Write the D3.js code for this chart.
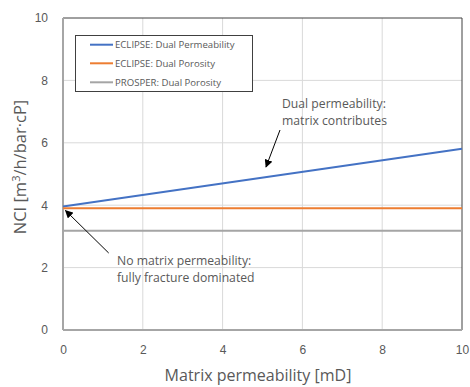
<!DOCTYPE html>
<html>
<head>
<meta charset="utf-8">
<script src="https://cdn.jsdelivr.net/npm/d3@7"></script>
<style>
  html, body { margin: 0; padding: 0; background: #fff; }
  svg { display: block; font-family: "Open Sans", "Liberation Sans", sans-serif; }
</style>
</head>
<body>
<svg id="chart" width="470" height="387"></svg>
<script>
// Matrix permeability [mD] sample points
const permeability = [0, 10];
// NCI values for each model
const eclipseDualPerm = [3.96, 5.81];
const eclipseDualPoro = [3.90, 3.90];
const prosperDualPoro = [3.18, 3.18];

const xTicks = [0, 2, 4, 6, 8, 10];
const yTicks = [0, 2, 4, 6, 8, 10];

const seriesNames = ["ECLIPSE: Dual Permeability", "ECLIPSE: Dual Porosity", "PROSPER: Dual Porosity"];
const seriesColors = ["#4472C4", "#ED7D31", "#A5A5A5"];
const seriesValues = [eclipseDualPerm, eclipseDualPoro, prosperDualPoro];

const svg = d3.select("#chart");
const margin = { left: 63, right: 8, top: 18, bottom: 57 };
const W = 470, H = 387;
const x = d3.scaleLinear().domain([0, 10]).range([margin.left, W - margin.right]);
const y = d3.scaleLinear().domain([0, 10]).range([H - margin.bottom, margin.top]);

const textColor = "#595959";

// gridlines
svg.append("g").selectAll("line.gx").data(xTicks.slice(1, -1)).join("line")
  .attr("x1", d => x(d)).attr("x2", d => x(d))
  .attr("y1", y(0)).attr("y2", y(10))
  .attr("stroke", "#D9D9D9").attr("stroke-width", 1);
svg.append("g").selectAll("line.gy").data(yTicks.slice(1, -1)).join("line")
  .attr("x1", x(0)).attr("x2", x(10))
  .attr("y1", d => y(d)).attr("y2", d => y(d))
  .attr("stroke", "#D9D9D9").attr("stroke-width", 1);

// frame: top and right border
svg.append("path")
  .attr("d", `M${x(0)},${y(10)}H${x(10)}V${y(0)}`)
  .attr("fill", "none").attr("stroke", "#404040").attr("stroke-width", 1);

// axes lines
svg.append("line").attr("x1", x(0)).attr("x2", x(10)).attr("y1", y(0)).attr("y2", y(0))
  .attr("stroke", "#A6A6A6").attr("stroke-width", 2);
svg.append("line").attr("x1", x(0)).attr("x2", x(0)).attr("y1", y(0)).attr("y2", y(10))
  .attr("stroke", "#A6A6A6").attr("stroke-width", 2);

// tick labels
const xAxis = svg.append("g").attr("transform", `translate(0,${y(0)})`)
  .call(d3.axisBottom(x).tickValues(xTicks).tickSize(0).tickPadding(15).tickFormat(d3.format("d")));
xAxis.select(".domain").remove();
xAxis.selectAll("text").attr("fill", textColor).attr("font-size", 12);

const yAxis = svg.append("g").attr("transform", `translate(${x(0)},0)`)
  .call(d3.axisLeft(y).tickValues(yTicks).tickSize(0).tickPadding(15).tickFormat(d3.format("d")));
yAxis.select(".domain").remove();
yAxis.selectAll("text").attr("fill", textColor).attr("font-size", 12);

// series lines
const line = d3.line().x((d, i) => x(permeability[i])).y(d => y(d));
svg.append("g").selectAll("path").data(seriesValues).join("path")
  .attr("d", d => line(d))
  .attr("fill", "none")
  .attr("stroke", (d, i) => seriesColors[i])
  .attr("stroke-width", 2);

// axis titles
svg.append("text").attr("x", 258).attr("y", 381)
  .attr("text-anchor", "middle").attr("fill", textColor).attr("font-size", 16)
  .text("Matrix permeability [mD]");

const yTitle = svg.append("text")
  .attr("transform", "translate(26,167) rotate(-90)")
  .attr("text-anchor", "middle").attr("fill", textColor).attr("font-size", 16.5);
yTitle.append("tspan").text("NCI [m");
yTitle.append("tspan").attr("font-size", 11).attr("dy", -6).text("3");
yTitle.append("tspan").attr("dy", 6).text("/h/bar·cP]");

// legend
const lg = svg.append("g");
lg.append("rect").attr("x", 75.5).attr("y", 35.5).attr("width", 177).attr("height", 56)
  .attr("fill", "#fff").attr("stroke", "#404040").attr("stroke-width", 1);
const rowsY = [44.7, 63.3, 82.3];
seriesNames.forEach((name, i) => {
  lg.append("line").attr("x1", 90).attr("x2", 113).attr("y1", rowsY[i]).attr("y2", rowsY[i])
    .attr("stroke", seriesColors[i]).attr("stroke-width", 2);
  lg.append("text").attr("x", 115).attr("y", rowsY[i]).attr("dy", "0.35em")
    .attr("font-size", 9.6).attr("fill", textColor).text(name);
});

// annotations
svg.append("defs").append("marker")
  .attr("id", "arrow").attr("viewBox", "0 0 10 10")
  .attr("refX", 9).attr("refY", 5)
  .attr("markerWidth", 8).attr("markerHeight", 8)
  .attr("markerUnits", "userSpaceOnUse")
  .attr("orient", "auto")
  .append("path").attr("d", "M0,0L10,5L0,10z").attr("fill", "#000");

function note(lines, tx, ty) {
  const t = svg.append("text").attr("x", tx).attr("y", ty)
    .attr("fill", textColor).attr("font-size", 12.2);
  lines.forEach((s, i) => t.append("tspan").attr("x", tx).attr("dy", i ? 17 : 0).text(s));
}
note(["Dual permeability:", "matrix contributes"], 282, 108);
svg.append("line").attr("x1", 280).attr("y1", 130).attr("x2", 266).attr("y2", 167)
  .attr("stroke", "#000").attr("stroke-width", 1).attr("marker-end", "url(#arrow)");

note(["No matrix permeability:", "fully fracture dominated"], 117, 265);
svg.append("line").attr("x1", 108.7).attr("y1", 253).attr("x2", 65.5).attr("y2", 210.5)
  .attr("stroke", "#000").attr("stroke-width", 1).attr("marker-end", "url(#arrow)");
</script>
</body>
</html>
